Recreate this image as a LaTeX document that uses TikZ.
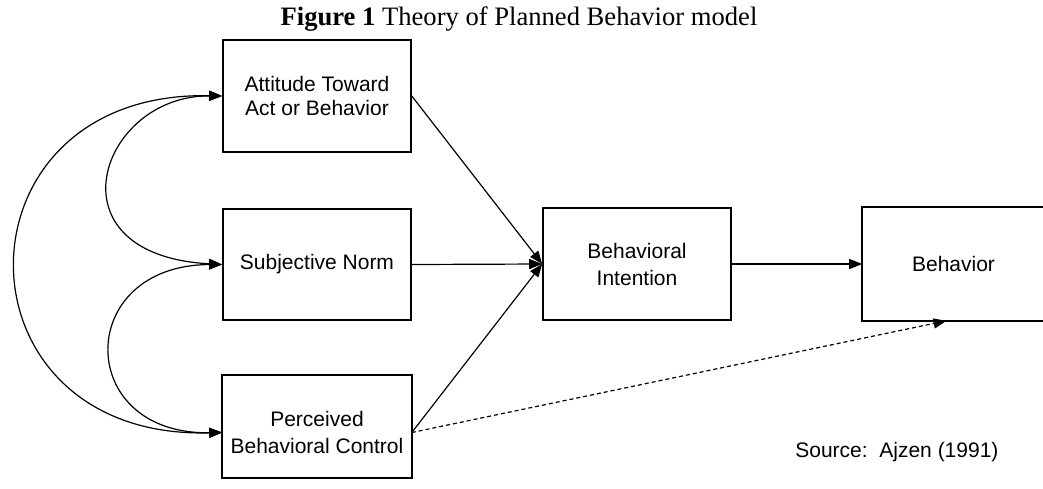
\documentclass[tikz,border=0pt]{standalone}
\usepackage{fontspec}
\setmainfont{Liberation Serif}
\setsansfont{Liberation Sans}
\usetikzlibrary{arrows.meta}
\begin{document}
\begin{tikzpicture}[x=1pt,y=-1pt,
  boxnode/.style={draw, line width=1.6pt, rectangle, inner sep=0pt,
    minimum width=188pt, minimum height=112pt, align=center,
    font=\sffamily\fontsize{21}{27}\selectfont},
  boxline/.style={draw, line width=1.6pt},
  conn/.style={line width=1.2pt, -{Triangle[length=13pt,width=10pt]}},
  dconn/.style={line width=1.2pt, {Triangle[length=13pt,width=10pt]}-{Triangle[length=13pt,width=10pt]}},
  dashconn/.style={line width=1.2pt, dash pattern=on 4pt off 3pt, -{Triangle[length=13pt,width=10pt]}}
]
\useasboundingbox (0,0) rectangle (1043,488);
\node[anchor=base, font=\fontsize{26.6}{30}\selectfont] (title) at (519,25) {\textbf{Figure 1} Theory of Planned Behavior model};
\node[boxnode, font=\sffamily\fontsize{21}{24}\selectfont] (A) at (317,96) {Attitude Toward\\Act or Behavior};
\node[boxnode, minimum height=111pt] (S) at (317,264.5) {Subjective Norm};
\node[boxnode, draw=none, minimum height=113pt] (P) at (317,432.5) {Perceived\\Behavioral Control};
\draw[boxline] (P.north west) rectangle ([yshift=12pt]P.south east);
\node[boxnode] (BI) at (637,264) {Behavioral\\Intention};
\node[boxnode, draw=none, minimum width=181pt] (B) at (953.5,264) {Behavior};
\draw[boxline] (B.south west) rectangle ([xshift=15pt]B.north east);
\node[anchor=base east, font=\sffamily\fontsize{21}{25}\selectfont] (src) at (1002,457) {Source:\ \ Ajzen (1991)};
% paths to intention
\draw[conn] (A.east) -- (BI.west);
\draw[conn] (S.east) -- (BI.west);
\draw[conn] (P.east) -- (BI.west);
\draw[conn] (BI.east) -- (B.west);
\draw[dashconn] (P.east) -- ([xshift=-7pt]B.south);
% correlations
\draw[dconn] (A.west) .. controls (100,95) and (45,255) .. (S.west);
\draw[dconn] (S.west) .. controls (74,265) and (74,435) .. (P.west);
\draw[dconn] (A.west) .. controls (-52,90) and (-52,440) .. (P.west);
\end{tikzpicture}
\end{document}
